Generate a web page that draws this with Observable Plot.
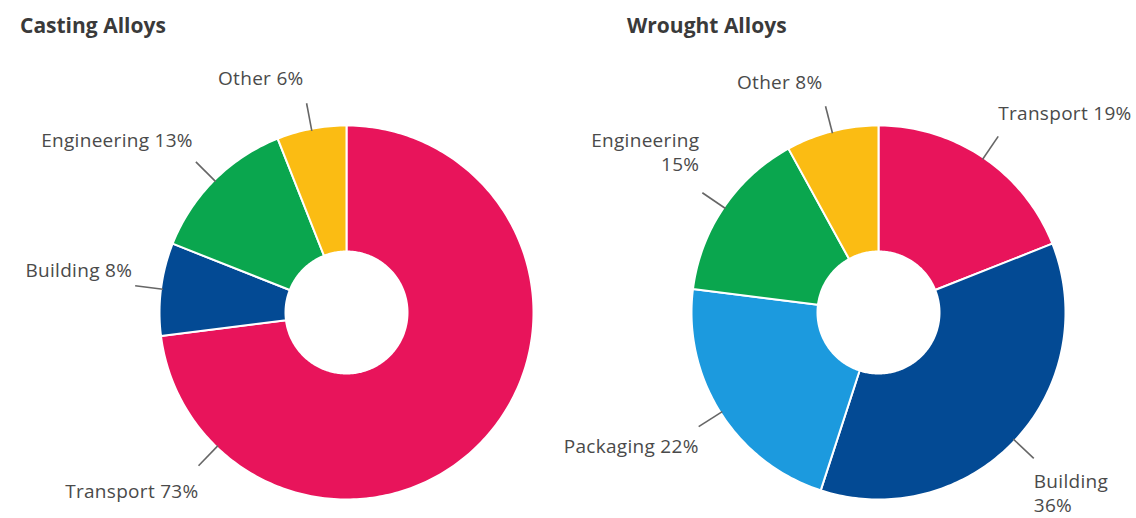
<!DOCTYPE html>
<html>
<head>
<meta charset="utf-8">
<script src="https://cdn.jsdelivr.net/npm/d3@7"></script>
<script src="https://cdn.jsdelivr.net/npm/@observablehq/plot@0.6"></script>
<style>
  html, body { margin: 0; padding: 0; background: #fff; }
  #wrap { position: relative; width: 1136px; height: 518px; overflow: hidden; }
  .title { position: absolute; top: 11px; font-family: "Open Sans", sans-serif; font-weight: 700; font-size: 21px; color: #3a3a3a; letter-spacing: 0px; }
  #chart { position: absolute; left: 0; top: 0; }
  #chart svg text { letter-spacing: 0.3px; }
</style>
</head>
<body>
<div id="wrap">
  <div id="chart"></div>
  <div class="title" id="t0" style="left:20px"></div>
  <div class="title" id="t1" style="left:627px"></div>
</div>
<script>
// ---- data ----
const chartTitles = ["Casting Alloys", "Wrought Alloys"];
const castingCategories = ["Transport", "Building", "Engineering", "Other"];
const castingValues = [73, 8, 13, 6];
const wroughtCategories = ["Transport", "Building", "Packaging", "Engineering", "Other"];
const wroughtValues = [19, 36, 22, 15, 8];

// ---- layout / style (not data) ----
const W = 1136, H = 518;
const centersX = [346, 878];
const centerY = 312;
const outerR = 187, innerR = 61;
const labelAngleOverride = [{Transport: 224}, {}];          // degrees clockwise from top
const labelBreaks = [{}, {Building: true, Engineering: true}];
const labelNudgeY = [{Transport: 4}, {Engineering: -8, Building: 2, Packaging: -2}];
const colorDomain = ["Transport", "Building", "Engineering", "Other", "Packaging"];
const colorRange = ["#e8145b", "#034a94", "#0aa64e", "#fbbc13", "#1c9ade"];

document.getElementById("t0").textContent = chartTitles[0];
document.getElementById("t1").textContent = chartTitles[1];

const charts = [
  {cats: castingCategories, vals: castingValues},
  {cats: wroughtCategories, vals: wroughtValues}
];

const rad = d => d * Math.PI / 180;
const pt = (ci, r, deg) => ({x: centersX[ci] + r * Math.sin(rad(deg)), y: centerY - r * Math.cos(rad(deg))});

const polys = [];
const leaders = [];
const labels = [];
charts.forEach((c, ci) => {
  const total = d3.sum(c.vals);
  let acc = 0;
  c.cats.forEach((cat, i) => {
    const a0 = acc / total * 360;
    acc += c.vals[i];
    const a1 = acc / total * 360;
    const key = ci + "-" + cat;
    const n = Math.max(2, Math.ceil(a1 - a0));
    for (let k = 0; k <= n; k++) polys.push({key, cat, ...pt(ci, outerR, a0 + (a1 - a0) * k / n)});
    for (let k = n; k >= 0; k--) polys.push({key, cat, ...pt(ci, innerR, a0 + (a1 - a0) * k / n)});
    const am = labelAngleOverride[ci][cat] ?? (a0 + a1) / 2;
    const p1 = pt(ci, outerR - 2, am), p2 = pt(ci, outerR + 26, am);
    leaders.push({x1: p1.x, y1: p1.y, x2: p2.x, y2: p2.y});
    const right = Math.sin(rad(am)) >= 0;
    const upper = Math.cos(rad(am)) > 0;
    const txt = cat + (labelBreaks[ci][cat] ? "\n" : " ") + c.vals[i] + "%";
    let ly = upper ? p2.y - 10 * Math.cos(rad(am)) : p2.y;
    ly += labelNudgeY[ci][cat] ?? 0;
    labels.push({x: p2.x, y: ly, text: txt, right, upper});
  });
});

const textOpts = {fontSize: 19, fill: "#4a4a4a", fontFamily: "Open Sans, sans-serif", lineHeight: 1.25};
const plot = Plot.plot({
  width: W, height: H,
  margin: 0,
  x: {domain: [0, W], range: [0, W], axis: null},
  y: {domain: [0, H], range: [0, H], axis: null},
  color: {domain: colorDomain, range: colorRange},
  marks: [
    Plot.line(polys, {x: "x", y: "y", z: "key", fill: "cat", stroke: "white", strokeWidth: 2, curve: "linear-closed"}),
    Plot.link(leaders, {x1: "x1", y1: "y1", x2: "x2", y2: "y2", stroke: "#666", strokeWidth: 1.6}),
    Plot.text(labels.filter(d => d.right && d.upper), {x: "x", y: "y", text: "text", textAnchor: "start", lineAnchor: "bottom", dy: -8, ...textOpts}),
    Plot.text(labels.filter(d => !d.right && d.upper), {x: "x", y: "y", text: "text", textAnchor: "end", lineAnchor: "bottom", dy: -8, dx: -3, ...textOpts}),
    Plot.text(labels.filter(d => d.right && !d.upper), {x: "x", y: "y", text: "text", textAnchor: "start", lineAnchor: "top", dy: 11, ...textOpts}),
    Plot.text(labels.filter(d => !d.right && !d.upper), {x: "x", y: "y", text: "text", textAnchor: "end", lineAnchor: "top", dy: 11, ...textOpts})
  ]
});
document.getElementById("chart").appendChild(plot);
</script>
</body>
</html>
